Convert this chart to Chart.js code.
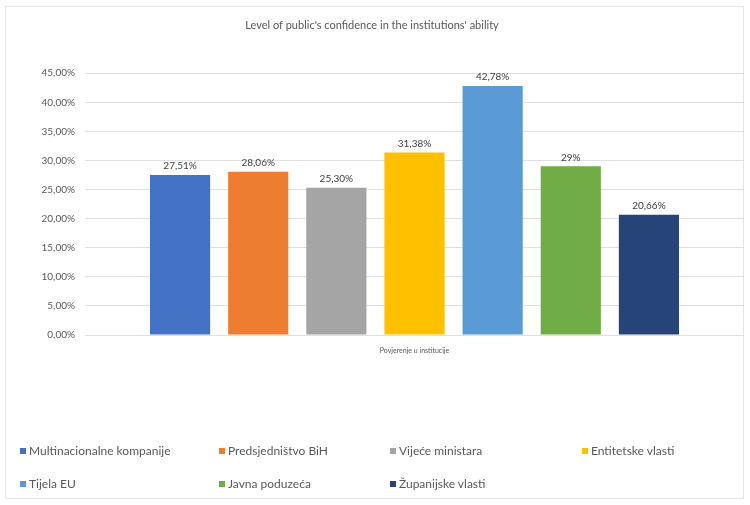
<!DOCTYPE html>
<html>
<head>
<meta charset="utf-8">
<script src="https://cdn.jsdelivr.net/npm/chart.js@4.4.1/dist/chart.umd.min.js"></script>
<style>
  html, body { margin: 0; padding: 0; background: #fff; }
  #wrap { position: relative; width: 750px; height: 505px; }
  #frame { position: absolute; left: 5px; top: 6px; width: 739px; height: 493px; border: 1px solid #e6e6e6; box-sizing: border-box; }
  canvas { position: absolute; left: 0; top: 0; }
  #legend { position: absolute; left: 0; top: 0; font-family: Lato, "Liberation Sans", sans-serif; font-size: 12px; color: #595959; }
  .item { position: absolute; white-space: nowrap; line-height: 14px; }
  .box { display: inline-block; width: 6px; height: 6px; margin-right: 3px; vertical-align: 1px; }
</style>
</head>
<body>
<div id="wrap">
  <div id="frame"></div>
  <canvas id="chart" width="750" height="505"></canvas>
  <div id="legend"></div>
</div>
<script>
const titleText = "Level of public's confidence in the institutions' ability";
const category = ['Povjerenje u institucije'];
const institutions = ['Multinacionalne kompanije', 'Predsjedništvo BiH', 'Vijeće ministara', 'Entitetske vlasti', 'Tijela EU', 'Javna poduzeća', 'Županijske vlasti'];
const confidence = [27.51, 28.06, 25.30, 31.38, 42.78, 29, 20.66];
const valueLabels = ['27,51%', '28,06%', '25,30%', '31,38%', '42,78%', '29%', '20,66%'];
const barColors = ['#4472C4', '#ED7D31', '#A5A5A5', '#FFC000', '#5B9BD5', '#70AD47', '#264478'];
const yTicks = ['0,00%', '5,00%', '10,00%', '15,00%', '20,00%', '25,00%', '30,00%', '35,00%', '40,00%', '45,00%'];

const FONT = 'Lato, "Liberation Sans", sans-serif';

// one dataset per institution, all in the single category
const datasets = institutions.map((name, i) => ({
  label: name,
  data: [confidence[i]],
  backgroundColor: barColors[i],
  barPercentage: 0.77,
  categoryPercentage: 0.83
}));

// value labels above each bar
const barLabels = {
  id: 'barLabels',
  afterDatasetsDraw(chart) {
    const ctx = chart.ctx;
    ctx.save();
    ctx.font = '10px ' + FONT;
    ctx.fillStyle = '#404040';
    ctx.textAlign = 'center';
    ctx.textBaseline = 'bottom';
    chart.data.datasets.forEach((ds, i) => {
      const bar = chart.getDatasetMeta(i).data[0];
      ctx.fillText(valueLabels[i], bar.x, bar.y - 4);
    });
    ctx.restore();
  }
};

new Chart(document.getElementById('chart').getContext('2d'), {
  type: 'bar',
  data: { labels: category, datasets: datasets },
  options: {
    responsive: false,
    animation: false,
    layout: { padding: { left: 0, right: 6, top: 0, bottom: 0 } },
    plugins: {
      legend: { display: false },
      tooltip: { enabled: false },
      title: {
        display: true,
        text: titleText,
        color: '#595959',
        font: { family: FONT, size: 11, weight: 'normal' },
        padding: { top: 19, bottom: 41 }
      }
    },
    scales: {
      x: {
        grid: { display: false },
        border: { display: false },
        ticks: { color: '#595959', font: { family: FONT, size: 7 }, padding: 4 },
        afterFit(scale) { scale.height = 170; }
      },
      y: {
        min: 0,
        max: 45,
        grid: { color: '#e0e0e0', lineWidth: 1, drawTicks: false },
        border: { display: false },
        ticks: {
          stepSize: 5,
          padding: 10,
          color: '#595959',
          font: { family: FONT, size: 10 },
          callback: (v, idx) => yTicks[idx]
        },
        afterFit(scale) { scale.width = 85; }
      }
    }
  },
  plugins: [barLabels]
});

// legend laid out in four fixed columns
const legendPos = [[20, 444], [219, 444], [390, 444], [582, 444], [20, 477], [219, 477], [390, 477]];
const legend = document.getElementById('legend');
institutions.forEach((name, i) => {
  const el = document.createElement('div');
  el.className = 'item';
  el.style.left = legendPos[i][0] + 'px';
  el.style.top = legendPos[i][1] + 'px';
  el.innerHTML = '<span class="box" style="background:' + barColors[i] + '"></span>' + name;
  legend.appendChild(el);
});
</script>
</body>
</html>
